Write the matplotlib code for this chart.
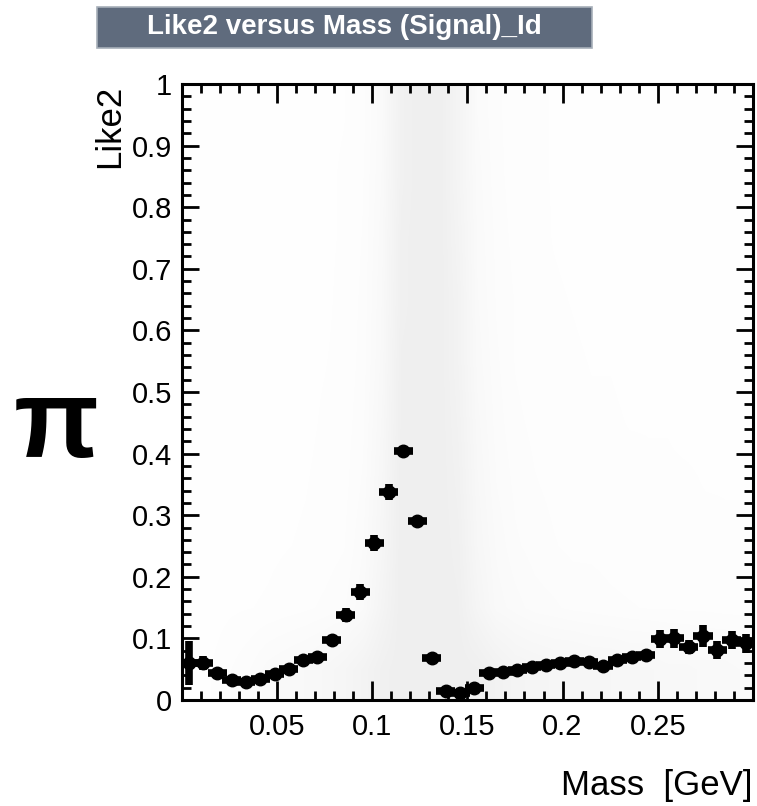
import numpy as np
import matplotlib
matplotlib.use("Agg")
import matplotlib.pyplot as plt
from matplotlib.colors import LinearSegmentedColormap
from matplotlib.patches import FancyBboxPatch
from matplotlib.ticker import MultipleLocator

plt.rcParams["font.family"] = ["Liberation Sans", "DejaVu Sans"]

# profile of Like2 versus Mass, 40 bins of 0.0075 GeV
bin_width = 0.0075
bar_half = 0.005  # drawn half length of the horizontal bars
like2_mean = [0.060, 0.060, 0.044, 0.032, 0.029, 0.034, 0.042, 0.050,
              0.065, 0.070, 0.097, 0.138, 0.176, 0.255, 0.338, 0.404,
              0.290, 0.068, 0.014, 0.011, 0.019, 0.044, 0.046, 0.049,
              0.053, 0.057, 0.060, 0.063, 0.062, 0.056, 0.065, 0.070,
              0.073, 0.099, 0.100, 0.086, 0.104, 0.081, 0.097, 0.092]
like2_err = [0.035, 0.012, 0.006, 0.004, 0.004, 0.004, 0.004, 0.004,
             0.004, 0.004, 0.009, 0.011, 0.013, 0.013, 0.013, 0.008,
             0.004, 0.004, 0.004, 0.004, 0.004, 0.004, 0.004, 0.004,
             0.004, 0.004, 0.004, 0.004, 0.004, 0.004, 0.004, 0.004,
             0.006, 0.015, 0.015, 0.012, 0.018, 0.015, 0.015, 0.015]

# density of the signal scatter (0 = empty, 1 = filled), x bins 0.01, y bins 0.1
density = [
    [0.03, 0.06, 0.12, 0.18, 0.28, 0.33, 0.38, 0.45, 0.55, 0.70, 0.90, 1.0, 1.0, 1.0, 1.0,
     0.95, 0.80, 0.65, 0.60, 0.55, 0.55, 0.50, 0.50, 0.45, 0.45, 0.40, 0.40, 0.35, 0.35, 0.30],
    [0.02, 0.03, 0.05, 0.06, 0.07, 0.09, 0.11, 0.14, 0.18, 0.30, 0.65, 1.0, 1.0, 1.0, 0.95,
     0.60, 0.35, 0.28, 0.22, 0.20, 0.17, 0.16, 0.14, 0.13, 0.12, 0.12, 0.11, 0.11, 0.10, 0.10],
    [0.02, 0.02, 0.03, 0.04, 0.05, 0.06, 0.07, 0.09, 0.12, 0.25, 0.55, 1.0, 1.0, 1.0, 0.90,
     0.50, 0.30, 0.20, 0.16, 0.13, 0.11, 0.11, 0.10, 0.09, 0.09, 0.08, 0.08, 0.08, 0.07, 0.07],
    [0.02, 0.02, 0.03, 0.03, 0.04, 0.05, 0.06, 0.08, 0.10, 0.20, 0.50, 1.0, 1.0, 1.0, 0.85,
     0.45, 0.25, 0.17, 0.13, 0.11, 0.10, 0.09, 0.08, 0.08, 0.07, 0.07, 0.07, 0.06, 0.06, 0.06],
    [0.02, 0.02, 0.02, 0.03, 0.04, 0.05, 0.05, 0.07, 0.09, 0.17, 0.45, 0.95, 1.0, 1.0, 0.80,
     0.40, 0.22, 0.14, 0.11, 0.09, 0.08, 0.07, 0.07, 0.06, 0.06, 0.06, 0.05, 0.05, 0.05, 0.05],
    [0.01, 0.02, 0.02, 0.03, 0.03, 0.04, 0.05, 0.06, 0.08, 0.15, 0.40, 0.95, 1.0, 1.0, 0.75,
     0.35, 0.20, 0.12, 0.09, 0.08, 0.07, 0.06, 0.06, 0.05, 0.05, 0.05, 0.05, 0.05, 0.04, 0.04],
    [0.01, 0.01, 0.02, 0.02, 0.03, 0.04, 0.04, 0.05, 0.08, 0.14, 0.38, 0.90, 1.0, 1.0, 0.75,
     0.32, 0.18, 0.12, 0.09, 0.07, 0.06, 0.05, 0.05, 0.05, 0.04, 0.04, 0.04, 0.04, 0.04, 0.04],
    [0.01, 0.01, 0.02, 0.02, 0.03, 0.03, 0.04, 0.05, 0.07, 0.13, 0.35, 0.90, 1.0, 1.0, 0.70,
     0.30, 0.17, 0.10, 0.08, 0.06, 0.05, 0.05, 0.04, 0.04, 0.04, 0.04, 0.04, 0.04, 0.03, 0.03],
    [0.01, 0.01, 0.02, 0.02, 0.03, 0.03, 0.04, 0.05, 0.07, 0.12, 0.32, 0.85, 1.0, 1.0, 0.65,
     0.28, 0.15, 0.09, 0.07, 0.06, 0.05, 0.04, 0.04, 0.04, 0.04, 0.04, 0.04, 0.04, 0.03, 0.03],
    [0.01, 0.01, 0.02, 0.02, 0.03, 0.03, 0.04, 0.05, 0.06, 0.10, 0.30, 0.85, 1.0, 1.0, 0.65,
     0.25, 0.14, 0.09, 0.07, 0.06, 0.05, 0.04, 0.04, 0.04, 0.04, 0.04, 0.04, 0.04, 0.03, 0.03],
]

title = "Like2 versus Mass (Signal)_Id"
x_title = "Mass  [GeV]"
y_title = "Like2"
particle = "\u03c0"

fig = plt.figure(figsize=(7.57, 8.06), dpi=100)
ax = fig.add_axes([0.2400, 0.1315, 0.7547, 0.7643])

# background scatter density
cmap = LinearSegmentedColormap.from_list("bg", ["#ffffff", "#efefef"])
ax.imshow(np.array(density), extent=[0, 0.3, 0, 1], origin="lower",
          aspect="auto", cmap=cmap, vmin=0, vmax=1,
          interpolation="bilinear", zorder=0)

# profile points
centers = (np.arange(len(like2_mean)) + 0.5) * bin_width
ax.errorbar(centers, like2_mean, xerr=bar_half, yerr=like2_err,
            fmt="o", color="black", markersize=9, elinewidth=5.5,
            capsize=0, zorder=3)

ax.set_xlim(0, 0.3)
ax.set_ylim(0, 1)

ax.set_xticks([0.05, 0.1, 0.15, 0.2, 0.25])
ax.set_xticklabels(["0.05", "0.1", "0.15", "0.2", "0.25"])
ax.xaxis.set_minor_locator(MultipleLocator(0.01))
ax.set_yticks(np.arange(0, 1.01, 0.1))
ax.set_yticklabels(["0", "0.1", "0.2", "0.3", "0.4", "0.5",
                    "0.6", "0.7", "0.8", "0.9", "1"])
ax.yaxis.set_minor_locator(MultipleLocator(0.02))

ax.tick_params(which="both", direction="in", top=True, right=True,
               width=2, labelsize=21, colors="black")
ax.tick_params(axis="x", which="major", length=13.5, pad=9)
ax.tick_params(axis="x", which="minor", length=6.5)
ax.tick_params(axis="y", which="major", length=12, pad=7)
ax.tick_params(axis="y", which="minor", length=6.5)
for sp in ax.spines.values():
    sp.set_linewidth(2.2)

# axis titles, ROOT style
fig.text(0.1453, 0.8945, y_title, rotation=90, ha="center", va="top", fontsize=25)
fig.text(0.9934, 0.026, x_title, ha="right", va="center", fontsize=25)

# big particle symbol
fig.text(0.074, 0.433, particle, ha="center", va="baseline", fontsize=80,
         fontweight="bold")

# title box
box = FancyBboxPatch((97 / 757, 1 - 48 / 806), (592 - 97) / 757, 41 / 806,
                     boxstyle="square,pad=0", transform=fig.transFigure,
                     facecolor="#5f6b7d", edgecolor="#a7afb9", linewidth=1.2)
fig.patches.append(box)
fig.text(344.5 / 757, 1 - 27.5 / 806, title, ha="center", va="center",
         fontsize=20, fontweight="bold", color="white")

fig.savefig("out.png", dpi=100)
